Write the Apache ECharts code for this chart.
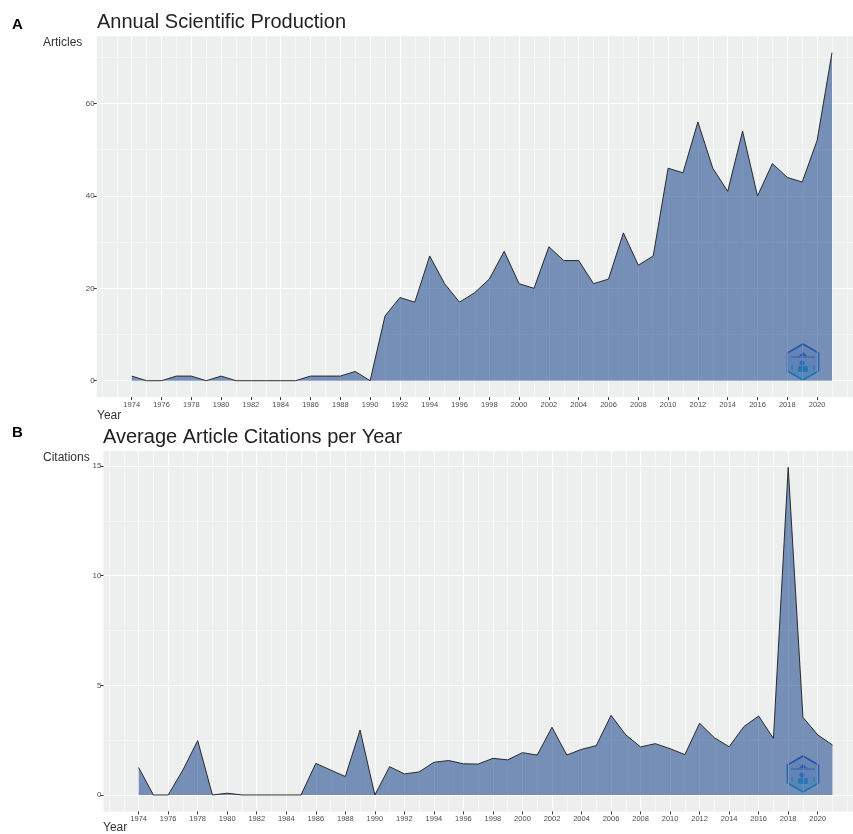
<!DOCTYPE html>
<html>
<head>
<meta charset="utf-8">
<script src="https://cdn.jsdelivr.net/npm/echarts@6/dist/echarts.min.js"></script>
<style>
  html, body { margin: 0; padding: 0; background: #ffffff; }
  #chart { width: 853px; height: 834px; }
</style>
</head>
<body>
<div id="chart"></div>
<script>
// Publication years
const years = [1974, 1975, 1976, 1977, 1978, 1979, 1980, 1981, 1982, 1983, 1984, 1985,
  1986, 1987, 1988, 1989, 1990, 1991, 1992, 1993, 1994, 1995, 1996, 1997, 1998, 1999,
  2000, 2001, 2002, 2003, 2004, 2005, 2006, 2007, 2008, 2009, 2010, 2011, 2012, 2013,
  2014, 2015, 2016, 2017, 2018, 2019, 2020, 2021];

// Articles published per year
const articles = [1, 0, 0, 1, 1, 0, 1, 0, 0, 0, 0, 0,
  1, 1, 1, 2, 0, 14, 18, 17, 27, 21, 17, 19, 22, 28,
  21, 20, 29, 26, 26, 21, 22, 32, 25, 27, 46, 45, 56, 46,
  41, 54, 40, 47, 44, 43, 52, 71];

// Mean citations per article per year
const citations = [1.25, 0, 0, 1.14, 2.48, 0, 0.08, 0, 0, 0, 0, 0,
  1.44, 1.14, 0.84, 2.96, 0, 1.29, 0.96, 1.05, 1.49, 1.57, 1.42, 1.41, 1.67, 1.60,
  1.93, 1.82, 3.09, 1.82, 2.08, 2.25, 3.63, 2.74, 2.19, 2.34, 2.11, 1.84, 3.27, 2.61,
  2.20, 3.12, 3.60, 2.58, 14.94, 3.54, 2.74, 2.28];

// Labelled year breaks and the thinner in-between grid lines
const yearTicks = [1974, 1976, 1978, 1980, 1982, 1984, 1986, 1988, 1990, 1992, 1994, 1996,
  1998, 2000, 2002, 2004, 2006, 2008, 2010, 2012, 2014, 2016, 2018, 2020];
const yearMinor = [1972, 1973, 1975, 1977, 1979, 1981, 1983, 1985, 1987, 1989, 1991, 1993,
  1995, 1997, 1999, 2001, 2003, 2005, 2007, 2009, 2011, 2013, 2015, 2017, 2019, 2021, 2022];

const articleTicks = [0, 20, 40, 60];
const articleMinor = [10, 30, 50, 70];
const citationTicks = [0, 5, 10, 15];
const citationMinor = [2.5, 7.5, 12.5];

const FONT = 'Liberation Sans, Arial, sans-serif';
const PANEL_BG = '#EDEEEE';
const FILL = 'rgba(0, 47, 128, 0.5)';

function plain(v) { return String(v); }

function xAxes(grid, min, max) {
  return [
    {
      type: 'value', gridIndex: grid, min: min, max: max, position: 'bottom',
      axisLine: { show: false, onZero: false },
      axisTick: { show: true, customValues: yearTicks, length: 3, lineStyle: { color: '#333333', width: 1 } },
      axisLabel: { show: true, customValues: yearTicks, formatter: plain, fontSize: 7.5, color: '#4D4D4D', margin: 4, fontFamily: FONT },
      splitLine: { show: true, lineStyle: { color: '#ffffff', width: 1.1 } }
    },
    {
      type: 'value', gridIndex: grid, min: min, max: max, position: 'bottom',
      axisLine: { show: false, onZero: false },
      axisTick: { show: false, customValues: yearMinor },
      axisLabel: { show: false, customValues: yearMinor },
      splitLine: { show: true, lineStyle: { color: '#ffffff', width: 0.5 } }
    }
  ];
}

function yAxes(grid, min, max, major, minor) {
  return [
    {
      type: 'value', gridIndex: grid, min: min, max: max, position: 'left',
      axisLine: { show: false, onZero: false },
      axisTick: { show: true, customValues: major, length: 3, lineStyle: { color: '#333333', width: 1 } },
      axisLabel: { show: true, customValues: major, formatter: plain, fontSize: 8, color: '#4D4D4D', margin: 2, fontFamily: FONT },
      splitLine: { show: true, lineStyle: { color: '#ffffff', width: 1.1 } }
    },
    {
      type: 'value', gridIndex: grid, min: min, max: max, position: 'left',
      axisLine: { show: false, onZero: false },
      axisTick: { show: false, customValues: minor },
      axisLabel: { show: false, customValues: minor },
      splitLine: { show: true, lineStyle: { color: '#ffffff', width: 0.5 } }
    }
  ];
}

function areaSeries(values, axisIndex) {
  return {
    type: 'line',
    xAxisIndex: axisIndex,
    yAxisIndex: axisIndex,
    data: years.map((y, i) => [y, values[i]]),
    symbol: 'none',
    smooth: false,
    lineStyle: { color: '#1a1a1a', width: 0.9 },
    areaStyle: { color: FILL, opacity: 1 },
    z: 3
  };
}

// Hexagonal logo badge
function badge(cx, cy) {
  const r = 18;
  const pts = [];
  for (let k = 0; k < 6; k++) {
    const a = Math.PI / 180 * (60 * k - 90);
    pts.push([cx + r * Math.cos(a), cy + r * Math.sin(a)]);
  }
  const grad = new echarts.graphic.LinearGradient(0, 0, 0, 1, [
    { offset: 0, color: '#4a72cf' }, { offset: 1, color: '#35c2f0' }
  ]);
  const gradFill = new echarts.graphic.LinearGradient(0, 0, 0, 1, [
    { offset: 0, color: 'rgba(80,120,210,0.15)' }, { offset: 1, color: 'rgba(50,190,240,0.35)' }
  ]);
  return {
    type: 'group',
    z: 10,
    children: [
      { type: 'polygon', shape: { points: pts }, style: { fill: gradFill, stroke: grad, lineWidth: 1.6 } },
      { type: 'line', shape: { x1: cx - 12, y1: cy - 5, x2: cx + 12, y2: cy - 5 }, style: { stroke: 'rgba(70,120,215,0.8)', lineWidth: 1 } },
      { type: 'polygon', shape: { points: [[cx - 4, cy - 6], [cx, cy - 10], [cx + 4, cy - 6]] }, style: { fill: 'rgba(70,115,210,0.85)' } },
      { type: 'circle', shape: { cx: cx - 1, cy: cy + 1, r: 2.6 }, style: { fill: 'rgba(70,150,230,0.8)' } },
      { type: 'rect', shape: { x: cx - 5, y: cy + 4, width: 10, height: 6, r: 1.5 }, style: { fill: 'rgba(50,180,240,0.8)' } },
      { type: 'line', shape: { x1: cx - 11, y1: cy + 3, x2: cx - 11, y2: cy + 8 }, style: { stroke: 'rgba(55,170,235,0.8)', lineWidth: 1 } },
      { type: 'line', shape: { x1: cx + 11, y1: cy + 3, x2: cx + 11, y2: cy + 8 }, style: { stroke: 'rgba(55,170,235,0.8)', lineWidth: 1 } }
    ]
  };
}

function label(text, x, y, size, color, weight) {
  return {
    type: 'text', x: x, y: y, z: 10,
    style: { text: text, fontSize: size, fill: color, fontFamily: FONT, fontWeight: weight || 'normal',
      verticalAlign: 'middle', align: 'left' }
  };
}

const chart = echarts.init(document.getElementById('chart'), null, { renderer: 'canvas' });

const option = {
  backgroundColor: '#ffffff',
  animation: false,
  grid: [
    { left: 96.7, right: 0, top: 36.3, bottom: 436.9, show: true, backgroundColor: PANEL_BG, borderWidth: 0 },
    { left: 103.5, right: 0, top: 450.9, bottom: 22.6, show: true, backgroundColor: PANEL_BG, borderWidth: 0 }
  ],
  xAxis: [].concat(xAxes(0, 1971.65, 2022.41), xAxes(1, 1971.62, 2022.39)),
  yAxis: [].concat(yAxes(0, -3.55, 74.55, articleTicks, articleMinor),
                   yAxes(1, -0.75, 15.69, citationTicks, citationMinor)),
  series: [areaSeries(articles, 0), areaSeries(citations, 2)],
  graphic: [
    label('A', 12, 25, 15, '#000000', 'bold'),
    label('Annual Scientific Production', 97, 22.5, 20, '#222222'),
    label('Articles', 43, 42.5, 12, '#333333'),
    label('Year', 97, 415.5, 12, '#333333'),
    label('B', 12, 433, 15, '#000000', 'bold'),
    label('Average Article Citations per Year', 103, 437.5, 20, '#222222'),
    label('Citations', 43, 457.5, 12, '#333333'),
    label('Year', 103, 828, 12, '#333333'),
    badge(803, 362),
    badge(803, 774)
  ]
};

chart.setOption(option);
</script>
</body>
</html>
